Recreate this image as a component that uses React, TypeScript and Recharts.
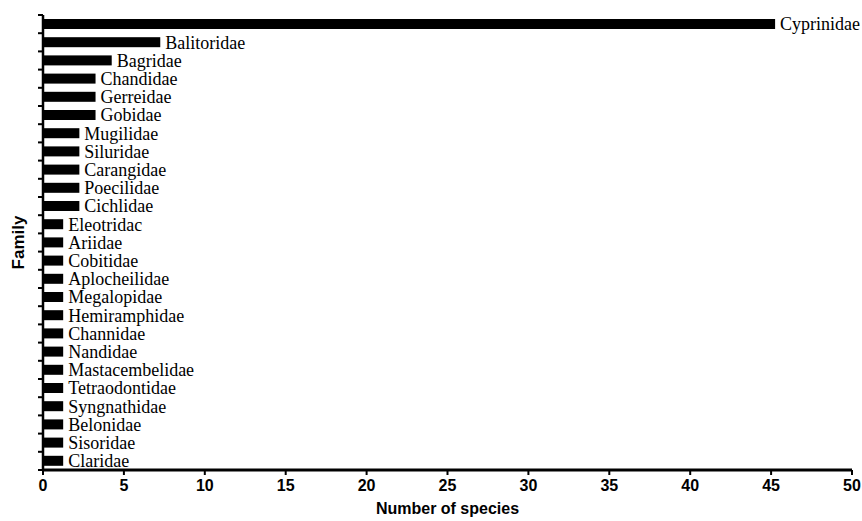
import React from "react";
import { BarChart, Bar, XAxis, YAxis, LabelList, Label } from "recharts";

const families = [
  "Cyprinidae", "Balitoridae", "Bagridae", "Chandidae", "Gerreidae", "Gobidae",
  "Mugilidae", "Siluridae", "Carangidae", "Poecilidae", "Cichlidae", "Eleotridac",
  "Ariidae", "Cobitidae", "Aplocheilidae", "Megalopidae", "Hemiramphidae", "Channidae",
  "Nandidae", "Mastacembelidae", "Tetraodontidae", "Syngnathidae", "Belonidae",
  "Sisoridae", "Claridae",
];
const species = [45, 7, 4, 3, 3, 3, 2, 2, 2, 2, 2, 1, 1, 1, 1, 1, 1, 1, 1, 1, 1, 1, 1, 1, 1];
const xTicks = [0, 5, 10, 15, 20, 25, 30, 35, 40, 45, 50];

const data = families.map((name, i) => ({ name, count: species[i] }));

const W = 862;
const H = 521;
const TOP = 15;
const XAXIS_H = 51;
const YAXIS_W = 43;
const STEP = (H - TOP - XAXIS_H) / families.length;

const sans = "'Liberation Sans', Arial, sans-serif";
const serif = "'Liberation Serif', 'Times New Roman', serif";

// tick marks sit between the bars, not at their centres
function FamilyTick(props: any) {
  const { y, index } = props;
  const top = y - STEP / 2;
  return (
    <g>
      <line x1={YAXIS_W - 5} x2={YAXIS_W} y1={top} y2={top} stroke="#000" strokeWidth={2} />
      {index === families.length - 1 && (
        <line x1={YAXIS_W - 5} x2={YAXIS_W} y1={top + STEP} y2={top + STEP} stroke="#000" strokeWidth={2} />
      )}
    </g>
  );
}

// the printed bars run a few px past their value
function InkBar(props: any) {
  const { x, y, width, height } = props;
  return <rect x={x} y={y} width={width + 4} height={height} fill="#000" />;
}

export default function App() {
  return (
    <div style={{ position: "absolute", left: 0, top: 0, background: "#fff" }}>
      <BarChart
        width={W}
        height={H}
        data={data}
        layout="vertical"
        margin={{ top: TOP, right: 10, left: 0, bottom: 0 }}
      >
        <XAxis
          type="number"
          domain={[0, 50]}
          ticks={xTicks}
          height={XAXIS_H}
          tickSize={5}
          tickMargin={5}
          axisLine={{ stroke: "#000", strokeWidth: 3 }}
          tickLine={{ stroke: "#000", strokeWidth: 2 }}
          tick={{ fill: "#000", fontFamily: sans, fontWeight: "bold", fontSize: 16 }}
        >
          <Label
            value="Number of species"
            position="insideBottom"
            offset={7}
            style={{ fill: "#000", fontFamily: sans, fontWeight: "bold", fontSize: 16 }}
          />
        </XAxis>
        <YAxis
          type="category"
          dataKey="name"
          width={YAXIS_W}
          interval={0}
          tickLine={false}
          axisLine={{ stroke: "#000", strokeWidth: 2.5 }}
          tick={<FamilyTick />}
        >
          <Label
            value="Family"
            angle={-90}
            position="insideLeft"
            offset={18}
            style={{ fill: "#000", fontFamily: sans, fontWeight: "bold", fontSize: 17, textAnchor: "middle" }}
          />
        </YAxis>
        <Bar dataKey="count" fill="#000" barSize={10} shape={<InkBar />} isAnimationActive={false}>
          <LabelList
            dataKey="name"
            position="right"
            offset={9}
            style={{ fill: "#000", fontFamily: serif, fontSize: 18 }}
          />
        </Bar>
      </BarChart>
    </div>
  );
}
